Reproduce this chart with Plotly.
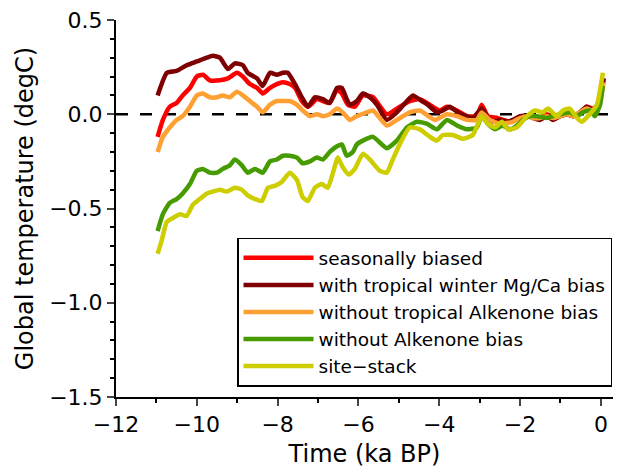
import plotly.graph_objects as go

# ---- data (time in ka BP, temperature anomaly in degC) ----
t_mgca = [-10.97, -10.74, -10.50, -10.25, -10.00, -9.75, -9.60, -9.43, -9.23, -9.06, -8.86, -8.74,
          -8.51, -8.37, -8.19, -8.02, -7.87, -7.75, -7.57, -7.40, -7.25, -7.08, -6.88, -6.71,
          -6.53, -6.41, -6.29, -6.21, -6.04, -5.89, -5.72, -5.54, -5.30, -5.05, -4.80, -4.65,
          -4.43, -4.28, -4.06, -3.91, -3.74, -3.54, -3.32, -3.17, -2.95, -2.82, -2.67, -2.50,
          -2.33, -2.18, -2.00, -1.83, -1.68, -1.51, -1.34, -1.19, -1.01, -0.84, -0.69, -0.52,
          -0.35, -0.20, -0.07, 0.02, 0.07]
v_mgca = [0.10, 0.22, 0.23, 0.26, 0.28, 0.30, 0.31, 0.30, 0.24, 0.27, 0.26, 0.22,
          0.19, 0.15, 0.22, 0.21, 0.22, 0.22, 0.16, 0.09, 0.04, 0.09, 0.08, 0.06,
          0.14, 0.14, 0.08, 0.05, 0.07, 0.11, 0.09, 0.05, -0.03, 0.01, 0.07, 0.10,
          0.07, 0.05, 0.01, 0.02, 0.04, 0.01, -0.01, -0.02, 0.03, -0.01, -0.04, -0.03,
          -0.04, -0.03, -0.01, -0.01, -0.02, -0.03, -0.01, -0.03, -0.01, 0.00, -0.01, 0.01,
          0.04, 0.02, 0.05, 0.13, 0.19]

t_seas = [-10.97, -10.84, -10.67, -10.50, -10.35, -10.17, -10.00, -9.85, -9.68, -9.43, -9.23, -9.01,
          -8.86, -8.69, -8.51, -8.37, -8.19, -8.02, -7.87, -7.70, -7.57, -7.40, -7.25, -7.03,
          -6.88, -6.71, -6.53, -6.41, -6.26, -6.09, -5.89, -5.64, -5.30, -5.05, -4.73, -4.48,
          -4.23, -3.99, -3.81, -3.56, -3.32, -3.07, -2.95, -2.80, -2.57, -2.25, -2.00, -1.83,
          -1.68, -1.51, -1.34, -1.19, -1.01, -0.84, -0.69, -0.52, -0.35, -0.20, -0.07, 0.02, 0.07]
v_seas = [-0.12, -0.03, 0.04, 0.06, 0.10, 0.14, 0.20, 0.21, 0.18, 0.18, 0.19, 0.22,
          0.20, 0.16, 0.14, 0.11, 0.14, 0.16, 0.17, 0.16, 0.14, 0.07, 0.04, 0.08,
          0.07, 0.06, 0.13, 0.11, 0.05, 0.04, 0.10, 0.09, 0.00, 0.03, 0.07, 0.08,
          0.05, 0.02, 0.04, 0.02, -0.01, -0.01, 0.05, -0.01, -0.02, -0.04, -0.02, -0.01,
          -0.01, -0.02, 0.00, -0.02, -0.01, 0.00, -0.01, 0.01, 0.04, 0.03, 0.05, 0.13, 0.19]

t_trop = [-10.97, -10.84, -10.67, -10.50, -10.35, -10.17, -10.00, -9.85, -9.68, -9.50, -9.36, -9.18,
          -9.01, -8.86, -8.69, -8.51, -8.37, -8.19, -8.02, -7.87, -7.70, -7.52, -7.38, -7.20,
          -7.03, -6.88, -6.71, -6.53, -6.39, -6.21, -6.04, -5.79, -5.64, -5.30, -5.05, -4.73,
          -4.48, -4.11, -3.81, -3.56, -3.32, -3.07, -2.95, -2.75, -2.50, -2.18, -2.00, -1.83,
          -1.68, -1.51, -1.34, -1.19, -1.01, -0.84, -0.69, -0.52, -0.35, -0.20, -0.07, 0.02, 0.07]
v_trop = [-0.20, -0.12, -0.07, -0.03, -0.01, 0.04, 0.10, 0.11, 0.09, 0.09, 0.10, 0.09,
          0.12, 0.10, 0.07, 0.04, 0.01, 0.05, 0.07, 0.07, 0.07, 0.05, 0.02, -0.01,
          0.00, -0.01, 0.00, 0.03, 0.01, -0.03, -0.01, 0.01, 0.02, -0.06, -0.03, 0.01,
          0.02, -0.03, 0.00, -0.01, -0.03, -0.03, 0.01, -0.03, -0.05, -0.04, -0.02, -0.01,
          -0.02, -0.02, -0.01, -0.02, -0.01, 0.00, -0.01, 0.01, 0.03, 0.02, 0.05, 0.12, 0.17]

t_noalk = [-10.97, -10.84, -10.67, -10.50, -10.35, -10.17, -10.00, -9.85, -9.68, -9.50, -9.36, -9.18,
           -9.06, -8.89, -8.74, -8.56, -8.37, -8.19, -8.02, -7.87, -7.70, -7.52, -7.38, -7.20,
           -7.03, -6.88, -6.71, -6.53, -6.41, -6.29, -6.14, -6.04, -5.89, -5.64, -5.30, -5.05,
           -4.80, -4.55, -4.31, -4.06, -3.81, -3.56, -3.32, -3.07, -2.95, -2.80, -2.62, -2.43,
           -2.25, -2.08, -1.93, -1.76, -1.58, -1.34, -1.19, -1.01, -0.77, -0.59, -0.45, -0.27,
           -0.15, -0.02, 0.05]
v_noalk = [-0.62, -0.53, -0.47, -0.45, -0.42, -0.37, -0.30, -0.29, -0.31, -0.31, -0.29, -0.27,
           -0.24, -0.27, -0.31, -0.29, -0.31, -0.25, -0.24, -0.22, -0.22, -0.23, -0.26, -0.25,
           -0.23, -0.24, -0.20, -0.17, -0.16, -0.22, -0.20, -0.16, -0.14, -0.12, -0.18, -0.14,
           -0.07, -0.04, -0.05, -0.08, -0.03, -0.06, -0.08, -0.07, -0.01, -0.05, -0.08, -0.06,
           -0.08, -0.06, -0.03, -0.01, -0.01, -0.02, -0.01, 0.00, 0.01, -0.01, 0.01, 0.02,
           -0.01, 0.05, 0.15]

t_stack = [-10.97, -10.87, -10.74, -10.59, -10.42, -10.25, -10.10, -9.93, -9.75, -9.60, -9.43, -9.26,
           -9.06, -8.89, -8.74, -8.56, -8.39, -8.24, -8.07, -7.90, -7.70, -7.52, -7.38, -7.25,
           -7.08, -6.91, -6.76, -6.63, -6.51, -6.39, -6.24, -6.09, -5.89, -5.72, -5.47, -5.30,
           -5.15, -4.98, -4.73, -4.48, -4.23, -4.06, -3.91, -3.66, -3.42, -3.17, -3.04, -2.95,
           -2.80, -2.62, -2.45, -2.30, -2.08, -1.83, -1.63, -1.44, -1.31, -1.09, -0.94, -0.77,
           -0.59, -0.47, -0.32, -0.10, 0.02, 0.05]
v_stack = [-0.74, -0.67, -0.57, -0.55, -0.53, -0.54, -0.48, -0.45, -0.42, -0.41, -0.40, -0.41,
           -0.39, -0.40, -0.43, -0.45, -0.46, -0.39, -0.38, -0.36, -0.31, -0.35, -0.44, -0.46,
           -0.39, -0.37, -0.39, -0.31, -0.23, -0.28, -0.32, -0.29, -0.21, -0.24, -0.30, -0.31,
           -0.24, -0.16, -0.07, -0.08, -0.12, -0.14, -0.11, -0.11, -0.13, -0.11, -0.05, -0.01,
           -0.05, -0.07, -0.04, -0.08, -0.07, -0.01, 0.02, 0.01, 0.03, -0.01, 0.02, 0.03,
           -0.02, -0.04, -0.01, 0.05, 0.18, 0.22]

series = [
    ("seasonally biased", t_seas, v_seas, "#FF0000"),
    ("with tropical winter Mg/Ca bias", t_mgca, v_mgca, "#7F0000"),
    ("without tropical Alkenone bias", t_trop, v_trop, "#FFA033"),
    ("without Alkenone bias", t_noalk, v_noalk, "#469B00"),
    ("site\u2212stack", t_stack, v_stack, "#CDCD00"),
]

x_ticks = [-12, -10, -8, -6, -4, -2, 0]
y_ticks = [-1.5, -1.0, -0.5, 0.0, 0.5]

FONT = "DejaVu Sans, Liberation Sans, Arial, sans-serif"

fig = go.Figure()
for name, t, v, c in series:
    fig.add_trace(go.Scatter(x=t, y=v, mode="lines", name=name,
                             line=dict(color=c, width=4.5, shape="spline", smoothing=0.5)))

fig.add_shape(type="line", xref="paper", x0=0, x1=1, yref="y", y0=0, y1=0,
              line=dict(color="black", width=2.5, dash="12px,12px"), layer="below")

fig.update_layout(
    width=617, height=472,
    margin=dict(l=116, r=4, t=20, b=75, autoexpand=False),
    paper_bgcolor="white", plot_bgcolor="white",
    font=dict(family=FONT, size=22, color="black"),
    showlegend=True,
    legend=dict(x=0.998, y=0.027, xanchor="right", yanchor="bottom",
                bordercolor="black", borderwidth=1.5, bgcolor="white",
                font=dict(size=18.5), itemwidth=70, tracegroupgap=0),
)
fig.update_xaxes(range=[-12, 0.3], tickvals=x_ticks, ticks="outside", ticklen=7, tickwidth=2,
                 showline=True, linecolor="black", linewidth=2, showgrid=False, zeroline=False,
                 automargin=False,
                 minor=dict(dtick=1, tick0=0, ticks="outside", ticklen=4, tickwidth=2, tickcolor="black"),
                 title=dict(text="Time (ka BP)", standoff=9, font=dict(size=24)),
                 tickfont=dict(size=22))
fig.update_yaxes(range=[-1.5, 0.5], tickvals=y_ticks, tickformat=".1f", ticks="outside", ticklen=7,
                 tickwidth=2, showline=True, linecolor="black", linewidth=2, showgrid=False,
                 zeroline=False, automargin=False,
                 minor=dict(dtick=0.1, tick0=0, ticks="outside", ticklen=4, tickwidth=2, tickcolor="black"),
                 title=dict(text="Global temperature (degC)", standoff=9, font=dict(size=24)),
                 tickfont=dict(size=22))

fig.write_html("out.html", config={"displayModeBar": False},
               post_script="document.body.style.margin='0';document.body.style.overflow='hidden';")
